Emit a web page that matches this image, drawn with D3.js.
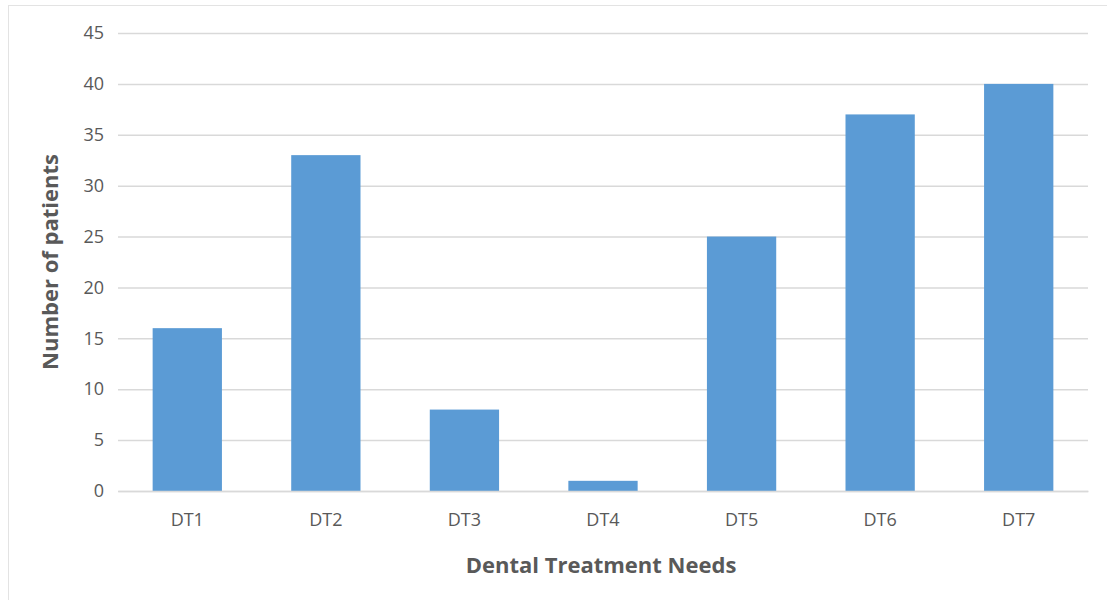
<!DOCTYPE html>
<html>
<head>
<meta charset="utf-8">
<script src="https://cdn.jsdelivr.net/npm/d3@7"></script>
<style>
  html, body { margin: 0; padding: 0; background: #fff; }
  svg { display: block; }
  text { font-family: "Open Sans", "Noto Sans", sans-serif; fill: #595959; }
</style>
</head>
<body>
<svg id="chart" width="1107" height="600"></svg>
<script>
// Dental treatment needs: patient counts per category
const categories = ["DT1", "DT2", "DT3", "DT4", "DT5", "DT6", "DT7"];
const patients = [16, 33, 8, 1, 25, 37, 40];
const yTicks = [0, 5, 10, 15, 20, 25, 30, 35, 40, 45];

const svg = d3.select("#chart");
const W = 1107, H = 600;
const m = { left: 118, right: 1088, top: 33, bottom: 491 };

// chart frame
svg.append("rect")
  .attr("x", 8.5).attr("y", 5.5)
  .attr("width", W + 10).attr("height", H + 10)
  .attr("fill", "none").attr("stroke", "#e3e3e3").attr("stroke-width", 1);

const x = d3.scaleBand().domain(categories).range([m.left, m.right]).paddingInner(0.5).paddingOuter(0.25);
const y = d3.scaleLinear().domain([0, 45]).range([m.bottom, m.top]);

// horizontal gridlines with left value labels
const yAxis = d3.axisLeft(y).tickValues(yTicks).tickSize(-(m.right - m.left)).tickPadding(14);
const gy = svg.append("g").attr("transform", `translate(${m.left},0)`).call(yAxis);
gy.select(".domain").remove();
gy.selectAll(".tick line").attr("stroke", "#d9d9d9").attr("stroke-width", 1.5);
gy.selectAll(".tick text").attr("font-size", 18).attr("fill", "#595959");

// bars
svg.append("g").selectAll("rect")
  .data(categories.map((c, i) => ({ c, v: patients[i] })))
  .join("rect")
  .attr("x", d => x(d.c))
  .attr("y", d => y(d.v))
  .attr("width", x.bandwidth())
  .attr("height", d => y(0) - y(d.v))
  .attr("fill", "#5b9bd5");

// category axis
const xAxis = d3.axisBottom(x).tickSize(0).tickPadding(22);
const gx = svg.append("g").attr("transform", `translate(0,${m.bottom})`).call(xAxis);
gx.select(".domain").attr("stroke", "#d9d9d9").attr("stroke-width", 1.5);
gx.selectAll(".tick text").attr("font-size", 18).attr("fill", "#595959");

// axis titles
svg.append("text")
  .attr("x", (m.left + m.right) / 2 - 2).attr("y", 573)
  .attr("text-anchor", "middle")
  .attr("font-size", 22).attr("font-weight", "bold")
  .text("Dental Treatment Needs");

svg.append("text")
  .attr("transform", `translate(58,${(m.top + m.bottom) / 2}) rotate(-90)`)
  .attr("text-anchor", "middle")
  .attr("font-size", 22).attr("font-weight", "bold")
  .text("Number of patients");
</script>
</body>
</html>
